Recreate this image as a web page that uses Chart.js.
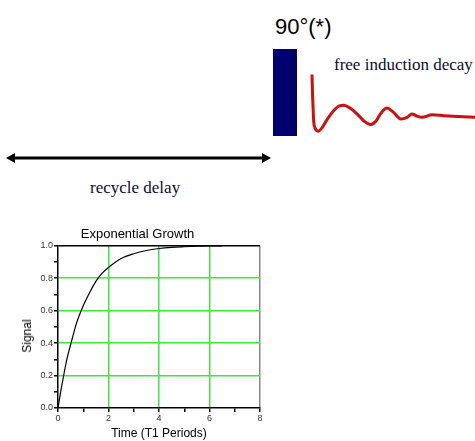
<!DOCTYPE html>
<html>
<head>
<meta charset="utf-8">
<script src="https://cdn.jsdelivr.net/npm/chart.js@4"></script>
<style>
  html,body{margin:0;padding:0;background:#fff;}
  body{width:475px;height:441px;position:relative;overflow:hidden;font-family:"Liberation Sans",Arial,sans-serif;}
  .abs{position:absolute;white-space:nowrap;}
  .serif{font-family:"Liberation Serif","Times New Roman",serif;font-size:17px;line-height:17px;color:#0c0c30;}
</style>
</head>
<body>
<!-- pulse + FID -->
<div class="abs" style="left:275px;top:16px;font-size:22px;line-height:22px;color:#000;">90°(*)</div>
<div class="abs" style="left:273px;top:49px;width:24px;height:87px;background:#00006e;"></div>
<div class="abs serif" style="left:334px;top:56px;">free induction decay</div>
<div class="abs" style="left:300px;top:60px;width:175px;height:85px;"><canvas id="chart-fid"></canvas></div>

<!-- recycle delay -->
<svg class="abs" style="left:0;top:148px;" width="280" height="20">
  <line x1="12" y1="10" x2="265" y2="10" stroke="#000" stroke-width="3"/>
  <polygon points="6,10 15,5 15,15" fill="#000"/>
  <polygon points="271,10 262,5 262,15" fill="#000"/>
</svg>
<div class="abs serif" style="left:90px;top:179px;">recycle delay</div>

<!-- exponential growth -->
<div class="abs" style="left:0;top:221px;width:270px;height:220px;"><canvas id="chart-exp"></canvas></div>
<div class="abs" style="left:27px;top:336px;font-size:12px;line-height:14px;transform:translate(-50%,-50%) rotate(-90deg);">Signal</div>

<script>
// Pulse sequence diagram: FID trace + T1 recovery curve.

// free induction decay, time (arb.) vs amplitude
const fidT=[0,0.5,1,1.7,3,6,10,16,22,27,32,38,46,52,59,64,69,75,81,89,95,100,105,110,120,132,146,163];
const fidA=[1.0,0.55,0.25,-0.12,-0.27,-0.35,-0.27,-0.04,0.15,0.25,0.27,0.2,0.04,-0.11,-0.19,-0.11,0.08,0.2,0.11,-0.06,-0.02,0.06,0.01,-0.02,0.04,0.02,0,-0.02];

// exponential growth, time in T1 periods vs signal
const expT=[0,0.1,0.2,0.35,0.5,0.75,1,1.25,1.5,1.75,2,2.5,3,3.5,4,4.5,5,5.5,6,6.5];
const expS=[0,0.095,0.18,0.3,0.39,0.53,0.63,0.71,0.78,0.83,0.865,0.92,0.95,0.97,0.982,0.989,0.993,0.996,0.998,0.998];

const xTicks=[0,2,4,6,8];
const yTicks=[0,0.2,0.4,0.6,0.8,1.0];

const GREEN='#3be83b';

function pairs(xs,ys){return xs.map((x,i)=>({x,y:ys[i]}));}

new Chart(document.getElementById('chart-fid'),{
  type:'line',
  data:{datasets:[{data:pairs(fidT,fidA),borderColor:'#d00e0e',borderWidth:3,pointRadius:0,cubicInterpolationMode:'monotone',clip:false}]},
  options:{
    responsive:true,maintainAspectRatio:false,animation:false,devicePixelRatio:1,
    layout:{padding:0},
    plugins:{legend:{display:false},tooltip:{enabled:false}},
    scales:{
      x:{type:'linear',display:false,min:-12,max:163},
      y:{display:false,min:-0.679,max:1.345}
    }
  }
});

new Chart(document.getElementById('chart-exp'),{
  type:'line',
  data:{datasets:[{data:pairs(expT,expS),borderColor:'#000',borderWidth:1.2,pointRadius:0,cubicInterpolationMode:'monotone'}]},
  options:{
    responsive:true,maintainAspectRatio:false,animation:false,devicePixelRatio:1,
    layout:{padding:{left:15,right:10,top:0,bottom:0}},
    plugins:{
      legend:{display:false},tooltip:{enabled:false},
      title:{display:true,text:'Exponential Growth',color:'#000',font:{family:'Liberation Sans',size:13,weight:'normal'},padding:{top:6,bottom:3}}
    },
    scales:{
      x:{
        type:'linear',min:0,max:8,
        afterFit:s=>{s.height=33;},
        ticks:{stepSize:1,padding:1,color:'#333',font:{family:'Liberation Sans',size:9},maxRotation:0,
          callback:v=>xTicks.includes(v)?String(v):''},
        grid:{
          color:c=>{const v=c.tick&&c.tick.value;return v===8?'#888':(v===2||v===4||v===6)?GREEN:'rgba(0,0,0,0)';},
          lineWidth:1.5,tickColor:'#000',tickLength:4
        },
        border:{color:'#000',width:1.5},
        title:{display:true,text:'Time (T1 Periods)',color:'#000',font:{family:'Liberation Sans',size:12},padding:{top:0,bottom:0}}
      },
      y:{
        min:0,max:1,
        afterFit:s=>{s.width=43;},
        ticks:{stepSize:0.1,padding:1,color:'#333',font:{family:'Liberation Sans',size:9},
          callback:v=>{const r=Math.round(v*10)/10;return yTicks.includes(r)?r.toFixed(1):'';}},
        grid:{
          color:c=>{const v=c.tick?Math.round(c.tick.value*10):0;return v===10?'#000':(v%2===0&&v>0)?GREEN:'rgba(0,0,0,0)';},
          lineWidth:1.5,tickColor:'#000',tickLength:4
        },
        border:{color:'#000',width:1.5}
      }
    }
  }
});
</script>
</body>
</html>
